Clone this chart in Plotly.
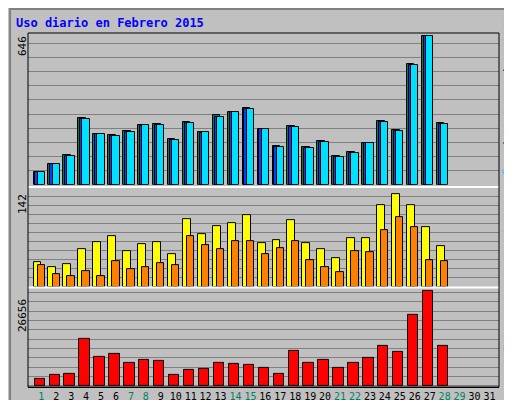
import plotly.graph_objects as go

days = list(range(1, 32))
hits = [58, 91, 130, 292, 221, 216, 234, 260, 265, 200, 273, 229, 304, 317, 335, 243, 168, 256, 164, 190, 124, 142, 181, 278, 238, 523, 646, 269]
files = [54, 89, 126, 287, 221, 213, 230, 260, 260, 196, 269, 229, 295, 317, 330, 243, 164, 252, 160, 186, 120, 139, 181, 274, 234, 519, 646, 265]
pages = [54, 89, 126, 287, 221, 213, 230, 256, 260, 196, 269, 225, 295, 317, 330, 243, 164, 252, 160, 186, 120, 139, 181, 274, 234, 519, 646, 265]
visits = [37, 30, 34, 57, 68, 77, 54, 65, 68, 50, 104, 80, 93, 97, 110, 67, 71, 102, 67, 57, 44, 74, 74, 124, 142, 125, 91, 62]
sites = [33, 19, 16, 24, 16, 39, 27, 30, 36, 33, 77, 64, 57, 70, 70, 50, 59, 70, 40, 30, 22, 54, 53, 87, 107, 91, 40, 39]
kbytes = [1848, 3016, 3308, 13231, 8269, 9145, 6518, 7394, 7102, 3016, 4475, 4767, 6518, 6226, 5934, 5059, 3308, 9729, 6518, 7394, 5059, 6518, 7977, 11188, 9437, 19944, 26656, 11188]
weekend = [1, 7, 8, 14, 15, 21, 22, 28, 29]
max_hits, max_visits, max_kb = 646, 142, 26656

x = days[:len(hits)]
n = len(x)
def bar(y, color, off, w, axis):
    return go.Bar(x=x, y=y, marker=dict(color=color, line=dict(color="black", width=1)),
                  offset=[off]*n, width=[w]*n, yaxis=axis, showlegend=False, hoverinfo="skip")

fig = go.Figure()
fig.add_trace(bar(hits, "#008040", -0.52, 0.5, "y"))
fig.add_trace(bar(pages, "#0040FF", -0.40, 0.5, "y"))
fig.add_trace(bar(files, "#00E0FF", -0.25, 0.49, "y"))
fig.add_trace(bar(visits, "#FFFF00", -0.52, 0.53, "y2"))
fig.add_trace(bar(sites, "#FF8000", -0.25, 0.49, "y2"))
fig.add_trace(bar(kbytes, "#FF0000", -0.45, 0.69, "y3"))

ticktext = [f"<span style='color:{'#008060' if d in weekend else 'black'}'>{d}</span>" for d in days]
grid = dict(showgrid=True, gridcolor="#808080", gridwidth=1, showticklabels=False, zeroline=False, ticks="")
fig.update_layout(
    width=512, height=400, paper_bgcolor="#C0C0C0", plot_bgcolor="#C0C0C0",
    margin=dict(l=20, r=21, t=25, b=21, autoexpand=False), barmode="overlay", bargap=0,
    font=dict(family="DejaVu Sans Mono", size=11, color="black"),
    xaxis=dict(range=[0.11, 31.64], tickvals=days, ticktext=ticktext, showgrid=False, ticks="",
               zeroline=False, tickfont=dict(size=10), tickangle=0, automargin=False,
               showline=True, linecolor="black", anchor="y3"),
    yaxis=dict(domain=[0.571, 1], range=[0, max_hits * 1.02], dtick=61.4, **grid),
    yaxis2=dict(domain=[0.283, 0.559], range=[0, max_visits * 1.05], dtick=13.84, **grid),
    yaxis3=dict(domain=[0, 0.28], range=[-max_kb * 0.012, max_kb * 1.035], dtick=2627, **grid),
)
for yy in [0.565, 0.281]:
    fig.add_shape(type="line", xref="paper", yref="paper", x0=0, x1=1, y0=yy, y1=yy, line=dict(color="white", width=2))
fig.add_shape(type="rect", xref="paper", yref="paper", x0=0, x1=1, y0=0, y1=1, line=dict(color="black", width=1))
fig.add_shape(type="rect", xref="paper", yref="paper", x0=-0.038, x1=1.039, y0=-0.056, y1=1.068,
              line=dict(color="#808080", width=2))

ann = [
    dict(x=6/512, y=1-15/400, text="<b>Uso diario en Febrero 2015</b>", font=dict(color="#0000FF", size=12), xanchor="left"),
    dict(x=14/512, y=1-38/400, text=str(max_hits), textangle=-90),
    dict(x=14/512, y=1-196/400, text=str(max_visits), textangle=-90),
    dict(x=14/512, y=1-308/400, text=str(max_kb), textangle=-90),
    dict(x=500/512, y=1-100/400, textangle=90,
         text="<span style='color:#008060'>Accesos</span> / <span style='color:#0000FF'>Archivos</span> / <span style='color:#00C0FF'>Páginas</span>"),
    dict(x=500/512, y=1-228/400, textangle=90,
         text="<span style='color:#FFFF00'>Visitas</span> / <span style='color:#FF8000'>Clientes</span>"),
    dict(x=500/512, y=1-345/400, textangle=90, text="<span style='color:#FF0000'>KB F</span>"),
]
for a in ann:
    a.setdefault("xanchor", "center")
    a["yanchor"] = "middle"
    a["x"] = (a["x"] * 512 - 20) / 471
    a["y"] = (a["y"] * 400 - 21) / 354
    fig.add_annotation(xref="paper", yref="paper", showarrow=False, **a)

fig.write_html("out.html")
